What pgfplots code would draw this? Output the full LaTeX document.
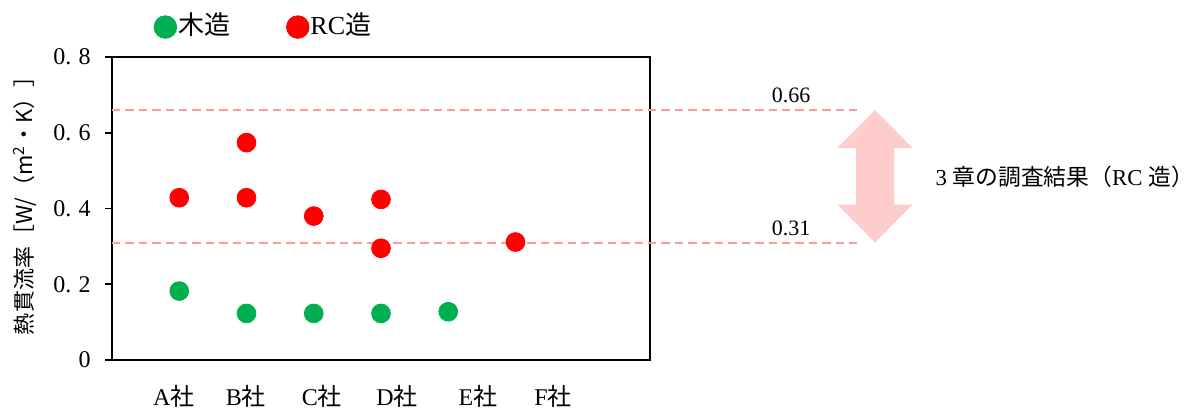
\documentclass[border=0pt]{standalone}
\usepackage{fontspec}
\setmainfont{Liberation Serif}
\newfontfamily\cjk{Noto Sans CJK JP}
\usepackage{pgfplots}
\pgfplotsset{compat=1.18}
\definecolor{wood}{HTML}{00B050}
\definecolor{rc}{HTML}{FF0000}
\definecolor{refline}{HTML}{FF9B9B}
\definecolor{refarrow}{HTML}{FFCCCC}

\begin{document}
\begin{tikzpicture}
\begin{axis}[
  at={(56pt,25pt)}, anchor=south west,
  scale only axis, width=269pt, height=151.5pt,
  xmin=0, xmax=8, ymin=0, ymax=0.8,
  clip=false,
  axis line style={line width=0.9pt},
  xtick={0.92,1.99,3.12,4.24,5.44,6.56},
  xticklabels={A{\cjk 社},B{\cjk 社},C{\cjk 社},D{\cjk 社},E{\cjk 社},F{\cjk 社}},
  x tick style={draw=none},
  xticklabel style={anchor=base, yshift=-19.3pt, font=\fontsize{12}{14}\selectfont},
  ytick={0,0.2,0.4,0.6,0.8},
  yticklabels={0,{0.\hspace{0.3em}2},{0.\hspace{0.3em}4},{0.\hspace{0.3em}6},{0.\hspace{0.3em}8}},
  ytick pos=left, tick align=outside, major tick length=3.5pt,
  y tick style={line width=0.9pt, black},
  yticklabel style={anchor=east, inner sep=0pt, xshift=-7pt, font=\fontsize{12}{14}\selectfont},
  ylabel={{\cjk 熱貫流率［W/（m\textsuperscript{2}・K）］}},
  ylabel style={at={(axis description cs:-0.1617,0.527)}, anchor=center, font=\fontsize{11}{13}\selectfont},
  legend columns=2,
  legend style={at={(axis description cs:0.0775,1.105)}, anchor=west,
    draw=none, fill=none, inner sep=0pt, outer sep=0pt,
    font=\fontsize{13}{15}\selectfont,
    nodes={inner sep=0.5pt},
    /tikz/every even column/.append style={column sep=27.5pt}},
]
% wooden buildings
\addplot[only marks, mark=*, mark size=4.7pt, color=wood, mark options={draw=none},
  legend image code/.code={\fill[wood] (0pt,-1pt) circle (5.65pt);}]
  coordinates {(1,0.182) (2,0.123) (3,0.123) (4,0.123) (5,0.1275)};
\addlegendentry{{\cjk 木造}}
% reinforced concrete buildings
\addplot[only marks, mark=*, mark size=4.7pt, color=rc, mark options={draw=none},
  legend image code/.code={\fill[rc] (0pt,-1pt) circle (5.65pt);}]
  coordinates {(1,0.4285) (2,0.574) (2,0.4285) (3,0.380) (4,0.424) (4,0.295) (6,0.3115)};
\addlegendentry{RC{\cjk 造}}
% survey range from chapter 3
\addplot[refline, line width=1pt, dash pattern=on 4.2pt off 2.5pt, forget plot]
  coordinates {(0,0.66) (11.09,0.66)};
\addplot[refline, line width=1pt, dash pattern=on 4.2pt off 2.5pt, forget plot]
  coordinates {(0,0.31) (11.09,0.31)};
\node[anchor=base, yshift=3.7pt, font=\fontsize{11}{13}\selectfont] at (axis cs:10.1,0.66) {0.66};
\node[anchor=base, yshift=3.7pt, font=\fontsize{11}{13}\selectfont] at (axis cs:10.1,0.31) {0.31};
\fill[refarrow]
  (axis cs:11.346,0.66)
  -- ([shift={(18.85pt,-19pt)}]axis cs:11.346,0.66)
  -- ([shift={(9.5pt,-19pt)}]axis cs:11.346,0.66)
  -- ([shift={(9.5pt,19pt)}]axis cs:11.346,0.31)
  -- ([shift={(18.85pt,19pt)}]axis cs:11.346,0.31)
  -- (axis cs:11.346,0.31)
  -- ([shift={(-18.85pt,19pt)}]axis cs:11.346,0.31)
  -- ([shift={(-9.5pt,19pt)}]axis cs:11.346,0.31)
  -- ([shift={(-9.5pt,-19pt)}]axis cs:11.346,0.66)
  -- ([shift={(-18.85pt,-19pt)}]axis cs:11.346,0.66)
  -- cycle;
\node[anchor=west, inner sep=0pt, font=\fontsize{11.4}{13}\selectfont] at (axis cs:12.24,0.484)
  {3 {\cjk 章の調査結果（}RC {\cjk 造）}};
\end{axis}
\pgfresetboundingbox
\path[use as bounding box] (0,0) rectangle (601pt,205pt);
\end{tikzpicture}
\end{document}
